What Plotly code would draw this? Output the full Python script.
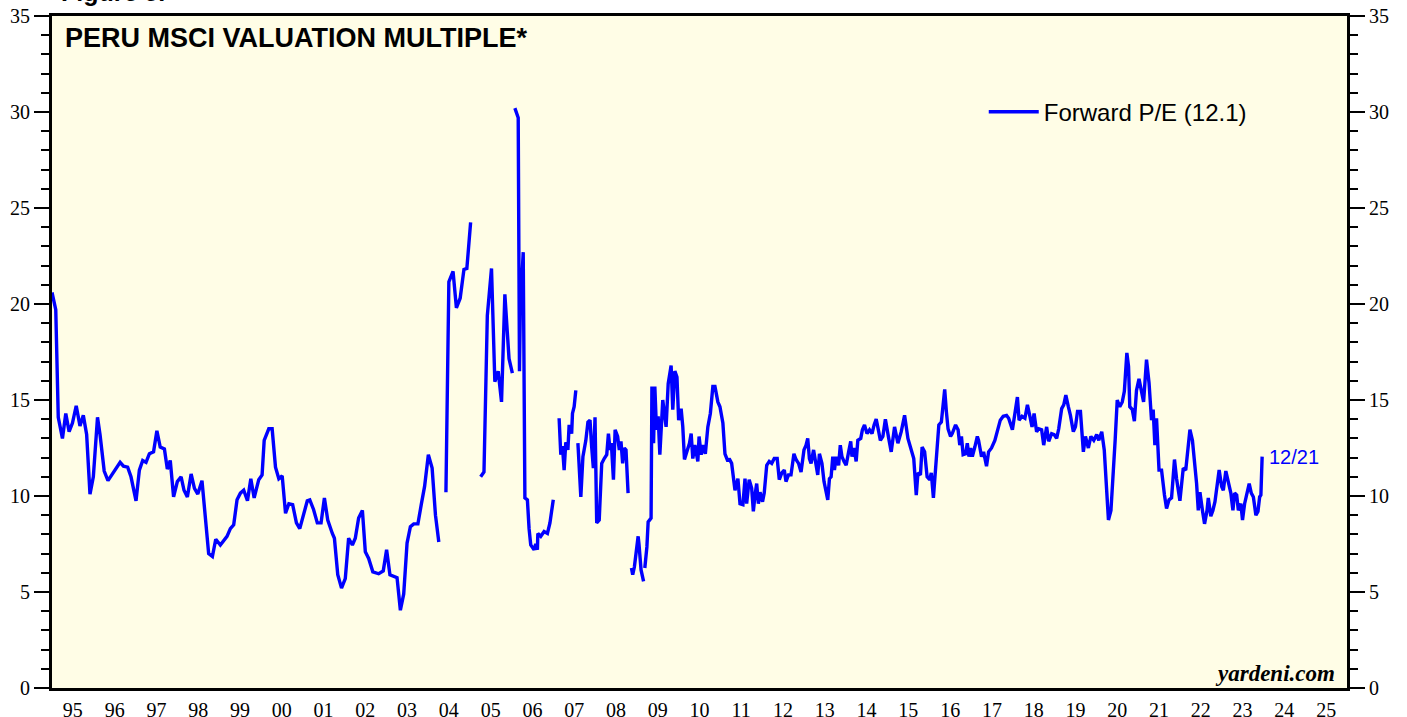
import plotly.graph_objects as go
import pandas as pd

# Decimal-year time stamps and Forward P/E values (None = gap)
t_dec = [
 1995.00,1995.09,1995.15,1995.25,1995.33,1995.41,1995.49,1995.58,1995.67,1995.75,1995.83,1995.91,1995.99,
 1996.09,1996.15,1996.25,1996.34,1996.43,1996.53,1996.63,1996.71,1996.81,1996.89,
 1997.01,1997.09,1997.17,1997.25,1997.33,1997.43,1997.51,1997.59,1997.69,1997.76,1997.83,1997.91,
 1998.00,1998.09,1998.16,1998.24,1998.33,1998.41,1998.49,1998.59,1998.67,1998.75,1998.84,1998.92,
 1999.03,1999.12,1999.19,1999.27,1999.35,1999.43,1999.51,1999.59,1999.68,1999.76,1999.84,1999.95,
 2000.03,2000.08,2000.19,2000.27,2000.35,2000.43,2000.51,2000.59,2000.67,2000.76,2000.85,2000.93,
 2001.01,2001.11,2001.17,2001.26,2001.35,2001.44,2001.52,2001.60,2001.71,2001.76,2001.84,2001.93,
 2002.02,2002.10,2002.19,2002.26,2002.34,2002.43,2002.50,2002.58,2002.68,2002.82,2002.93,
 2003.01,2003.09,2003.26,2003.34,2003.42,2003.50,2003.58,2003.66,2003.76,2003.84,2003.92,
 2004.01,2004.10,2004.18,2004.26,
 2004.35,
 2004.43,2004.50,2004.60,2004.68,2004.77,2004.86,2004.93,2005.02,
 2005.15,
 2005.26,2005.34,2005.42,2005.52,2005.60,2005.68,2005.76,2005.84,2005.94,2006.02,
 2006.05,
 2006.08,2006.12,2006.16,2006.19,2006.22,2006.24,2006.28,2006.32,2006.38,2006.42,2006.46,2006.54,
 2006.58,2006.62,2006.63,2006.70,2006.78,2006.86,2006.92,2006.96,2007.00,
 2007.07,
 2007.14,2007.18,2007.22,2007.26,2007.30,2007.35,2007.38,2007.44,2007.46,2007.50,2007.54,
 2007.565,
 2007.59,2007.66,2007.71,2007.78,2007.83,2007.88,2007.92,2007.96,2008.00,2008.04,2008.10,2008.16,
 2008.22,2008.28,2008.32,2008.36,2008.39,2008.44,2008.48,2008.54,2008.58,2008.62,2008.66,2008.70,
 2008.74,2008.79,
 2008.83,
 2008.87,2008.90,2008.94,2008.98,2009.00,2009.03,2009.05,2009.10,2009.16,
 2009.175,
 2009.19,2009.24,2009.27,2009.34,2009.36,2009.40,2009.43,2009.47,2009.51,2009.55,2009.62,2009.70,
 2009.75,2009.82,2009.86,2009.91,2009.96,2010.00,2010.06,2010.10,2010.14,2010.20,2010.26,2010.30,
 2010.34,2010.39,2010.46,2010.49,2010.54,2010.59,2010.64,2010.70,2010.76,2010.82,2010.87,2010.94,
 2010.99,2011.06,2011.11,2011.18,2011.21,2011.27,2011.31,2011.35,2011.42,2011.47,2011.54,2011.59,
 2011.63,2011.69,2011.75,2011.79,2011.83,2011.87,2011.91,2011.95,2012.01,2012.05,2012.11,2012.17,
 2012.23,2012.29,2012.36,2012.41,2012.47,2012.53,2012.57,2012.63,2012.69,2012.76,2012.81,2012.87,
 2012.93,2013.00,2013.05,2013.09,2013.13,2013.17,2013.23,2013.27,2013.33,2013.37,2013.43,2013.48,
 2013.53,2013.57,2013.61,2013.65,2013.69,2013.73,2013.77,2013.83,2013.87,2013.91,2013.96,2014.01,
 2014.07,2014.12,2014.15,2014.20,2014.25,2014.29,2014.36,2014.40,2014.45,2014.51,2014.57,2014.63,
 2014.68,2014.73,2014.79,2014.83,2014.89,2014.95,2015.03,2015.09,2015.17,2015.25,2015.33,2015.41,
 2015.49,2015.57,2015.63,2015.69,2015.73,2015.79,2015.83,2015.89,2015.95,2016.01,2016.05,2016.10,
 2016.17,2016.23,2016.29,2016.33,2016.37,2016.41,2016.45,2016.51,2016.55,2016.63,2016.69,2016.73,
 2016.77,2016.81,2016.87,2016.91,2016.95,2016.99,2017.03,2017.09,2017.15,2017.18,2017.25,2017.30,
 2017.37,2017.42,2017.49,2017.57,2017.65,2017.70,2017.77,2017.85,2017.90,2017.99,2018.05,2018.11,
 2018.15,2018.22,2018.29,2018.35,2018.41,2018.46,2018.51,2018.57,2018.62,2018.69,2018.74,2018.81,
 2018.86,2018.93,2018.99,2019.05,2019.10,2019.17,2019.22,2019.27,2019.33,2019.38,2019.45,2019.50,
 2019.55,2019.62,2019.69,2019.74,2019.81,2019.87,2019.94,2020.01,2020.06,2020.13,2020.19,2020.25,
 2020.29,2020.35,2020.41,2020.45,2020.50,2020.56,2020.62,2020.67,2020.73,2020.77,2020.80,2020.86,
 2020.91,2020.96,2021.02,2021.07,2021.13,2021.20,2021.26,2021.32,2021.36,2021.40,2021.44,2021.50,
 2021.56,2021.63,2021.68,2021.74,2021.80,2021.87,2021.92,2022.00,2022.08,2022.14,2022.19,2022.24,
 2022.30,2022.36,2022.40,2022.44,2022.48,2022.54,2022.59,2022.65,2022.68,2022.74,2022.79,2022.84,
 2022.88,2022.94,2023.00,2023.04,2023.10,2023.16,2023.22,2023.27,2023.31,2023.36,2023.40,2023.46,
 2023.50,2023.55,2023.60,2023.66,2023.71,2023.76,2023.82,2023.87,2023.91,2023.94,2023.97,
]

pe = [
 20.6,19.7,14.1,13.0,14.3,13.35,13.8,14.7,13.65,14.2,13.2,10.1,11.0,
 14.1,13.2,11.3,10.8,11.1,11.4,11.75,11.55,11.5,11.0,
 9.75,11.35,11.85,11.75,12.2,12.3,13.4,12.55,12.45,11.4,11.85,9.95,
 10.75,11.0,10.3,9.95,11.15,10.4,10.1,10.8,9.0,7.0,6.85,7.75,
 7.45,7.7,7.9,8.3,8.5,9.8,10.15,10.3,9.75,10.9,9.9,10.85,
 11.1,12.9,13.5,13.5,11.5,10.9,11.05,9.1,9.6,9.55,8.6,8.3,
 8.9,9.75,9.8,9.3,8.6,8.6,9.9,8.75,8.05,7.8,5.9,5.2,
 5.7,7.8,7.45,7.8,8.85,9.25,7.1,6.75,6.05,5.95,6.1,
 7.2,5.9,5.75,4.05,4.9,7.55,8.4,8.55,8.55,9.55,10.5,
 12.15,11.45,9.0,7.6,
 None,
 10.2,21.15,21.7,19.8,20.3,21.8,21.85,24.25,
 None,
 11.0,11.25,19.4,21.85,15.95,16.5,14.9,20.5,17.15,16.4,
 None,
 30.2,29.9,29.7,16.5,21.3,21.0,22.7,9.9,9.8,8.3,7.45,7.2,
 7.5,7.2,8.05,7.9,8.15,8.05,8.6,9.2,9.8,
 None,
 14.05,12.15,12.6,11.35,12.8,12.4,13.7,13.25,14.3,14.65,15.5,
 None,
 12.75,9.95,12.05,12.9,13.85,13.95,12.55,11.45,14.1,8.6,8.75,11.7,
 11.95,12.15,13.25,12.4,12.75,10.85,13.45,13.1,12.4,12.85,11.7,12.5,
 12.4,10.15,
 None,
 6.25,5.9,6.3,7.1,7.2,7.9,7.5,6.15,5.55,
 None,
 6.25,7.35,8.65,8.85,15.7,12.75,15.7,13.45,14.15,12.15,15.0,13.6,
 15.85,16.8,14.5,16.5,16.2,13.95,14.55,13.6,11.9,12.3,12.75,13.25,
 11.95,12.65,11.8,13.1,12.15,12.65,12.2,13.6,14.3,15.7,15.7,14.9,
 14.65,13.8,12.2,11.8,11.95,11.7,11.1,10.3,10.9,9.6,9.55,10.9,
 9.6,10.85,10.4,9.2,10.05,10.65,9.6,10.2,9.7,10.15,11.6,11.8,
 11.7,11.95,11.95,10.85,11.2,11.35,10.75,11.1,11.1,12.2,11.9,11.7,
 11.25,12.4,12.65,13.0,11.95,11.7,12.4,11.95,11.1,12.2,11.7,10.75,
 10.3,9.8,10.9,11.0,12.05,11.35,12.05,11.6,12.65,12.05,11.8,11.6,
 12.3,12.85,12.05,12.5,11.8,12.9,13.0,13.45,13.7,13.25,13.45,13.25,
 13.7,14.0,13.35,12.9,13.1,14.0,13.0,12.3,13.6,12.75,13.35,14.2,
 13.0,12.3,11.95,10.05,11.2,11.1,12.55,12.3,11.0,10.85,11.2,9.9,
 11.9,13.7,13.85,14.55,15.55,14.4,13.5,13.1,13.25,13.7,13.45,12.65,
 13.1,12.15,12.2,12.75,12.05,12.5,12.05,12.55,13.1,12.9,12.05,12.3,
 11.55,12.3,12.5,12.9,13.6,13.95,14.15,14.2,14.05,13.45,14.3,15.15,
 13.95,14.15,14.05,14.75,14.15,13.6,14.3,13.35,13.5,13.45,12.65,13.6,
 12.85,13.25,13.2,13.0,13.5,14.55,14.75,15.25,14.65,14.2,13.35,13.6,
 14.4,14.4,12.3,13.1,12.5,13.1,12.9,13.2,12.9,13.35,12.4,10.4,
 8.75,9.25,11.2,12.9,15.0,14.65,14.9,15.45,17.45,16.75,14.65,14.5,
 13.9,15.5,16.1,15.6,14.9,17.1,15.9,13.95,14.5,12.65,14.05,11.35,
 11.35,10.05,9.35,9.8,9.9,11.9,10.9,9.75,11.45,11.35,12.5,13.45,
 12.9,11.7,10.65,9.25,10.2,9.25,8.55,9.25,9.9,8.95,9.25,9.7,
 10.4,11.35,10.5,10.3,11.3,10.65,10.15,9.25,10.15,10.05,9.25,9.6,
 8.75,9.6,10.05,10.65,10.15,9.95,9.0,9.2,9.95,10.05,12.05,
]

series_name = "Forward P/E (12.1)"
last_label = "12/21"
title_text = "PERU MSCI VALUATION MULTIPLE*"
source_text = "yardeni.com"


def dec_to_ts(v):
    y = int(v)
    start = pd.Timestamp(year=y, month=1, day=1)
    end = pd.Timestamp(year=y + 1, month=1, day=1)
    return start + (end - start) * (v - y)


dates = [dec_to_ts(v) for v in t_dec]

SERIF = "Liberation Serif, Times New Roman, serif"
SANS = "Liberation Sans, Arial, Helvetica, sans-serif"

fig = go.Figure()
fig.add_trace(go.Scatter(
    x=dates, y=pe, mode="lines", name=series_name,
    line=dict(color="#0000FF", width=3.4), connectgaps=False,
))
# same series attached to the right-hand axis (invisible) so that axis draws
fig.add_trace(go.Scatter(
    x=dates, y=pe, mode="lines", yaxis="y2", showlegend=False, hoverinfo="skip",
    line=dict(color="rgba(0,0,0,0)", width=0.1), connectgaps=False,
))

yaxis_common = dict(
    range=[0, 35], dtick=5, tick0=0,
    ticks="outside", ticklen=15, tickwidth=2, tickcolor="black",
    minor=dict(dtick=1, ticks="outside", ticklen=8, tickwidth=2, tickcolor="black"),
    showgrid=False, zeroline=False,
    showline=True, linewidth=3, linecolor="black",
    tickfont=dict(family=SERIF, size=20, color="black"),
    fixedrange=True,
)

fig.update_layout(
    width=1407, height=717,
    margin=dict(l=52, r=60, t=16, b=29, autoexpand=False),
    paper_bgcolor="white",
    plot_bgcolor="#FFFDE6",
    showlegend=True,
    legend=dict(
        x=0.7195, y=0.857, xanchor="left", yanchor="middle",
        bgcolor="rgba(0,0,0,0)", borderwidth=0,
        font=dict(family=SANS, size=24, color="black"),
        itemwidth=50,
    ),
    xaxis=dict(
        type="date",
        range=["1995-01-01", "2026-01-01"],
        dtick="M12", tick0="1995-01-01",
        tickformat="%y", ticklabelmode="period",
        ticks="outside", ticklen=2, tickcolor="rgba(0,0,0,0)",
        minor=dict(dtick="M12", tick0="1995-01-01", ticks="outside", ticklen=17,
                   tickwidth=2, tickcolor="black"),
        showgrid=False, zeroline=False,
        showline=True, linewidth=3, linecolor="black", mirror=True,
        tickfont=dict(family=SERIF, size=20, color="black"),
        fixedrange=True,
    ),
    yaxis=dict(**yaxis_common, side="left", mirror=False),
    yaxis2=dict(**yaxis_common, side="right", overlaying="y", anchor="x"),
)

fig.add_annotation(
    text="<b>" + title_text + "</b>", xref="paper", yref="paper",
    x=0.0085, y=0.968, xanchor="left", yanchor="middle", showarrow=False,
    font=dict(family=SANS, size=27, color="black"),
)
fig.add_annotation(
    text="<b><i>" + source_text + "</i></b>", xref="paper", yref="paper",
    x=0.9925, y=0.0, xanchor="right", yanchor="bottom", showarrow=False,
    font=dict(family=SERIF, size=23, color="black"),
)
fig.add_annotation(
    text=last_label, x=dates[-1], y=pe[-1], xref="x", yref="y",
    xanchor="left", yanchor="middle", xshift=5, showarrow=False,
    font=dict(family=SANS, size=20, color="#0000FF"),
)
fig.add_annotation(
    text="<b>Figure 5.</b>", xref="paper", yref="paper",
    x=0.0055, y=1.0, yshift=8, xanchor="left", yanchor="bottom", showarrow=False,
    font=dict(family=SANS, size=25, color="black"),
)

fig.write_html(
    "out.html",
    config={"displayModeBar": False},
    post_script="document.body.style.margin='0';document.body.style.overflow='hidden';",
)
